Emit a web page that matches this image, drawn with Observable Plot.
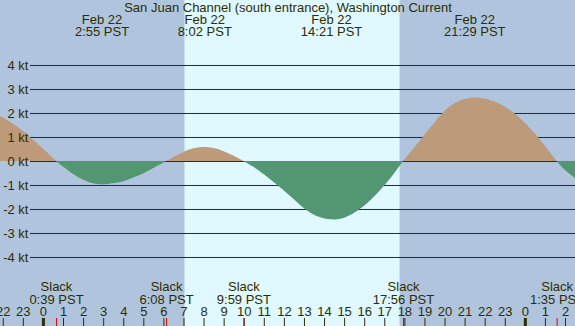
<!DOCTYPE html>
<html><head><meta charset="utf-8">
<script src="https://cdn.jsdelivr.net/npm/d3@7"></script>
<script src="https://cdn.jsdelivr.net/npm/@observablehq/plot@0.6"></script>
<style>html,body{margin:0;padding:0;background:#B0C4DE;} svg{display:block}</style>
</head><body><div id="chart"></div>
<script>
const title = "San Juan Channel (south entrance), Washington Current";
// hours since midnight Feb 22 (PST) and current speed in knots (+ flood, - ebb)
const curveHours = [-2.2, -1.8, -1.4, -1.0, -0.6, -0.2, 0.2, 0.65,
  1.0, 1.5, 2.0, 2.5, 2.917, 3.5, 4.0, 4.5, 5.0, 5.5, 6.133,
  6.5, 7.0, 7.5, 8.033, 8.5, 9.0, 9.5, 9.983,
  10.5, 11.0, 11.67, 12.3, 13.05, 13.6, 14.35, 15.0, 15.78, 16.4, 17.02, 17.5, 17.933,
  18.4, 18.91, 19.4, 19.9, 20.4, 20.9, 21.483, 22.1, 22.8, 23.46, 24.05, 24.64, 25.1, 25.583,
  26.0, 26.6];
const curveKnots = [1.90, 1.72, 1.50, 1.25, 0.97, 0.67, 0.36, 0,
  -0.23, -0.54, -0.78, -0.93, -0.97, -0.93, -0.84, -0.69, -0.51, -0.29, 0,
  0.17, 0.38, 0.53, 0.58, 0.54, 0.41, 0.22, 0,
  -0.25, -0.55, -1.0, -1.45, -2.0, -2.28, -2.43, -2.36, -2.0, -1.55, -1.0, -0.5, 0,
  0.47, 1.0, 1.5, 2.0, 2.35, 2.56, 2.65, 2.58, 2.35, 2.0, 1.55, 1.0, 0.53, 0,
  -0.38, -0.78];
const slackHours = [0.65, 6.133, 9.983, 17.933, 25.583];
const slackLabels = ["0:39 PST", "6:08 PST", "9:59 PST", "17:56 PST", "1:35 PST"];
const extremeHours = [2.917, 8.033, 14.35, 21.483];
const extremeLabels = ["2:55 PST", "8:02 PST", "14:21 PST", "21:29 PST"];
const extremeDates = ["Feb 22", "Feb 22", "Feb 22", "Feb 22"];
const sunriseHour = 7.05, sunsetHour = 17.76;
const speedLevels = [4, 3, 2, 1, 0, -1, -2, -3, -4];
const speedLabels = ["4 kt", "3 kt", "2 kt", "1 kt", "0 kt", "-1 kt", "-2 kt", "-3 kt", "-4 kt"];
const hourTicks = [-2, -1, 0, 1, 2, 3, 4, 5, 6, 7, 8, 9, 10, 11, 12, 13, 14, 15, 16, 17, 18, 19, 20, 21, 22, 23, 24, 25, 26];
const hourLabels = ["22", "23", "0", "1", "2", "3", "4", "5", "6", "7", "8", "9", "10", "11", "12", "13", "14", "15", "16", "17", "18", "19", "20", "21", "22", "23", "0", "1", "2"];
const midnightHours = [0, 24];

const nightColor = "#B0C4DE", dayColor = "#E0F8FF";
const floodColor = "#BC9A7A", ebbColor = "#529672";
const ink = "#2E2E00";

const pts = curveHours.map((h, i) => ({h, v: curveKnots[i]}));

const plot = Plot.plot({
  width: 575, height: 326,
  marginTop: 0, marginRight: 0, marginBottom: 0, marginLeft: 0,
  style: {fontFamily: "Liberation Sans", fontSize: "13px", background: nightColor},
  x: {domain: [-2.1375, 26.498], axis: null},
  y: {domain: [-6.875, 6.7083], axis: null},
  marks: [
    Plot.rect([{a: sunriseHour, b: sunsetHour}], {x1: "a", x2: "b", fill: dayColor}),
    Plot.ruleY(speedLevels, {y: d => d, stroke: ink, insetLeft: 30}),
    Plot.areaY(pts, {x: "h", y: "v", curve: "catmull-rom", fill: floodColor}),
    Plot.areaY(pts, {x: "h", y: "v", curve: "catmull-rom", fill: ebbColor}),
    Plot.text(speedLevels, {y: d => d, text: (d, i) => speedLabels[i], frameAnchor: "left", dx: 28, textAnchor: "end", fill: ink}),
    Plot.ruleX(hourTicks, {x: d => d, insetTop: 318, stroke: ink}),
    Plot.ruleX(midnightHours, {x: d => d, insetTop: 318, stroke: ink, strokeWidth: 3}),
    Plot.ruleX(slackHours, {x: d => d, insetTop: 318, stroke: "#E00000"}),
    Plot.text(hourTicks, {x: d => d, text: (d, i) => hourLabels[i], frameAnchor: "bottom", dy: -14.5, lineAnchor: "middle", fill: ink}),
    Plot.text(slackHours, {x: d => d, text: (d, i) => "Slack\n" + slackLabels[i], frameAnchor: "bottom", dy: -33, lineAnchor: "middle", lineHeight: 0.96, fill: ink}),
    Plot.text(extremeHours, {x: d => d, text: (d, i) => extremeDates[i] + "\n" + extremeLabels[i], frameAnchor: "top", dy: 25.5, lineAnchor: "middle", lineHeight: 0.92, fill: ink}),
    Plot.text([title], {text: d => d, frameAnchor: "top", dy: 7.5, lineAnchor: "middle", fill: ink})
  ]
});

// split the current area at 0 kt: flood above, ebb below
const y0 = plot.scale("y").apply(0);
const svg = d3.select(plot);
const defs = svg.insert("defs", ":first-child");
defs.append("clipPath").attr("id", "clip-flood").append("rect")
  .attr("x", -10).attr("y", -10).attr("width", 600).attr("height", y0 + 10);
defs.append("clipPath").attr("id", "clip-ebb").append("rect")
  .attr("x", -10).attr("y", y0).attr("width", 600).attr("height", 400);
const areas = svg.selectAll('g[aria-label="area"]').nodes();
if (areas.length >= 2) {
  d3.select(areas[0]).attr("clip-path", "url(#clip-flood)");
  d3.select(areas[1]).attr("clip-path", "url(#clip-ebb)");
}

document.getElementById("chart").appendChild(plot);
</script>
</body></html>
